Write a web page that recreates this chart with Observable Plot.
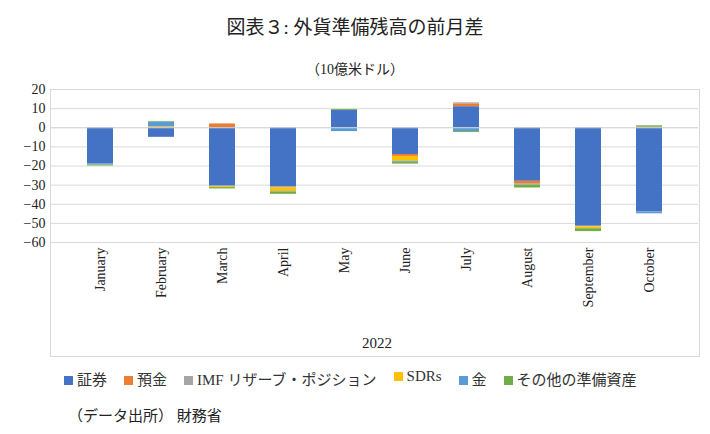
<!DOCTYPE html>
<html><head><meta charset="utf-8">
<script src="https://cdn.jsdelivr.net/npm/d3@7"></script>
<script src="https://cdn.jsdelivr.net/npm/@observablehq/plot@0.6"></script>
<style>
body{margin:0;background:#fff;font-family:"Liberation Serif","Noto Sans CJK JP",serif;}
#wrap{position:relative;width:710px;height:434px;}
.t{position:absolute;left:0;width:710px;text-align:center;color:#222;}
#chart{position:absolute;left:0;top:80px;}
#box{position:absolute;left:50px;top:89px;width:648px;height:266px;border:1px solid #d9d9d9;}
</style></head><body>
<div id="wrap">
<div class="t" style="top:12px;font-size:19px;">図表３: 外貨準備残高の前月差</div>
<div class="t" style="top:58px;font-size:14px;">（10億米ドル）</div>
<div id="box"></div>
<div id="chart"></div>
<div class="t" style="top:335px;font-size:15px;left:22px">2022</div>
<div id="legend" style="position:absolute;top:368px;left:64px;font-size:15px;color:#333;display:flex;gap:17px"></div>
<div style="position:absolute;top:404px;left:68px;font-size:15px;color:#222">（データ出所） 財務省</div>
</div>
<script>
const months = ["January","February","March","April","May","June","July","August","September","October"];
const seriesNames = ["証券","預金","IMF リザーブ・ポジション","SDRs","金","その他の準備資産"];
const colors = ["#4472C4","#ED7D31","#A5A5A5","#FFC000","#5B9BD5","#70AD47"];
const securities = [-19,-5,-30.5,-31,9,-14,11,-28,-51.5,-44];
const deposits   = [0,0,2,0,0,-1,1.5,-1.5,0,0.3];
const imf        = [0,0,-0.3,-0.3,0,0,0.5,-0.5,-0.3,0];
const sdrs       = [0,0.5,-0.5,-2,0,-2.5,0,0,-1,0];
const gold       = [-0.5,2.5,0,-0.3,-2,-0.5,-2,0,0,-1];
const other      = [-0.5,0.3,-0.7,-1.2,0.5,-1,-0.5,-1.5,-1.5,0.7];
const yTicks = [20,10,0,-10,-20,-30,-40,-50,-60];
const all = [securities,deposits,imf,sdrs,gold,other];
const data = [];
all.forEach((arr,si)=>arr.forEach((v,mi)=>data.push({month:months[mi],series:seriesNames[si],order:si,value:v})));
const chart = Plot.plot({
  width:710,height:280,marginLeft:50,marginRight:12,marginTop:9,marginBottom:118,
  style:{fontFamily:"Liberation Serif, serif",fontSize:"14px",color:"#222"},
  x:{domain:months,padding:0.58,label:null,tickRotate:-90,tickSize:0,tickPadding:5},
  y:{domain:[-60,20],ticks:yTicks,label:null,tickSize:0,tickPadding:5},
  color:{domain:seriesNames,range:colors},
  marks:[
    Plot.gridY(yTicks,{stroke:"#d9d9d9",strokeOpacity:1}),
    Plot.barY(data,Plot.stackY({x:"month",y:"value",fill:"series",order:"order"})),
    Plot.ruleY([0],{stroke:"#d9d9d9"})
  ]
});
document.getElementById("chart").appendChild(chart);
const lg=document.getElementById("legend");
seriesNames.forEach((n,i)=>{const s=document.createElement("span");s.innerHTML=`<span style="display:inline-block;width:9px;height:9px;background:${colors[i]};margin-right:4px"></span>${n}`;lg.appendChild(s);});
</script>
</body></html>
